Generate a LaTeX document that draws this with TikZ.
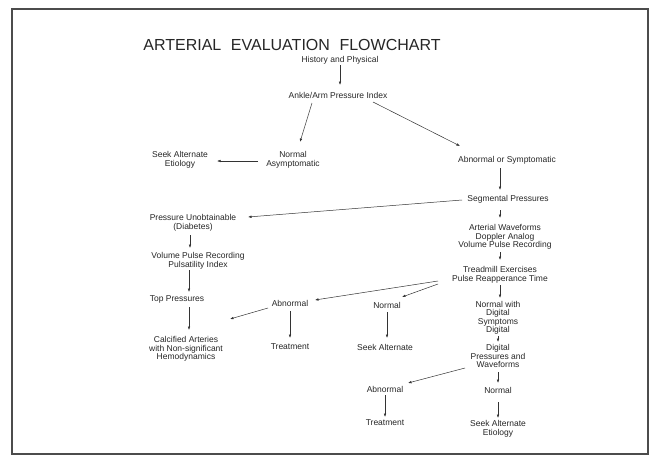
\documentclass[tikz,border=0pt]{standalone}
\usepackage{fontspec}
\setmainfont{Liberation Sans}
\usetikzlibrary{arrows.meta}
\begin{document}
\begin{tikzpicture}[x=1pt,y=1pt]
\tikzstyle{every node}+=[inner sep=0pt, align=center, text=black!85, font=\fontsize{8.5}{8.5}\selectfont]
\tikzstyle{arr}=[draw=black!80, line width=0.5pt, -{Latex[length=3.5pt,width=2.6pt]}]
\useasboundingbox (0,0) rectangle (652,-455);
\draw [black!70, line width=1.2pt] (12,-9) rectangle (648,-454);
\node (title) at (292,-45) {\fontsize{16}{16}\selectfont ARTERIAL\hspace{0.6em}EVALUATION\hspace{0.6em}FLOWCHART};
\node (hist) at (340,-60) {History and Physical};
\node (aai) at (338,-95) {Ankle/Arm Pressure Index};
\node (norm) at (293,-160) {Normal\\Asymptomatic};
\node (seek1) at (180,-160) {Seek Alternate\\Etiology};
\node (abn) at (507,-160) {Abnormal or Symptomatic};
\node (seg) at (508,-199) {Segmental Pressures};
\node (wave) at (505,-237) {Arterial Waveforms\\Doppler Analog\\Volume Pulse Recording};
\node (tread) at (500,-275) {Treadmill Exercises\\Pulse Reapperance Time};
\node (unob) at (193,-223) {Pressure Unobtainable\\(Diabetes)};
\node (vpr) at (198,-261) {Volume Pulse Recording\\Pulsatility Index};
\node (top) at (177,-299) {Top Pressures};
\node (calc) at (186,-349) {Calcified Arteries\\with Non-significant\\Hemodynamics};
\node (abn2) at (290,-303) {Abnormal};
\node (treat2) at (290,-347) {Treatment};
\node (norm2) at (387,-305) {Normal};
\node (seek2) at (385,-347) {Seek Alternate};
\node (nwd) at (498,-318) {Normal with\\Digital\\Symptoms\\Digital};
\node (dig) at (498,-356) {Digital\\Pressures and\\Waveforms};
\node (abn3) at (385,-389) {Abnormal};
\node (treat3) at (385,-423) {Treatment};
\node (norm3) at (498,-390) {Normal};
\node (seek3) at (498,-429) {Seek Alternate\\Etiology};
% upper part
\draw [arr] ([shift={(0,-5)}]hist.center) -- ([shift={(2,10)}]aai.center);
\draw [arr] ([shift={(-26,-8)}]aai.center) -- ([shift={(7,18)}]norm.center);
\draw [arr] ([shift={(35,-7)}]aai.center) -- ([shift={(-47,14)}]abn.center);
\draw [arr] ([shift={(-35,-1)}]norm.center) -- ([shift={(37,-1)}]seek1.center);
\draw [arr] ([shift={(-7,-8)}]abn.center) -- ([shift={(-8,9)}]seg.center);
\draw [arr] ([shift={(-46,-1)}]seg.center) -- ([shift={(55,6)}]unob.center);
\draw [arr] ([shift={(-8,-11)}]seg.center) -- ([shift={(-5,19)}]wave.center);
\draw [arr] ([shift={(-5,-15)}]wave.center) -- ([shift={(0,15)}]tread.center);
% left column
\draw [arr] ([shift={(-3,-12)}]unob.center) -- ([shift={(-8,13)}]vpr.center);
\draw [arr] ([shift={(-9,-9)}]vpr.center) -- ([shift={(12,7)}]top.center);
\draw [arr] ([shift={(12,-8)}]top.center) -- ([shift={(3,19)}]calc.center);
% treadmill results
\draw [arr] ([shift={(-62,-6)}]tread.center) -- ([shift={(25,3)}]abn2.center);
\draw [arr] ([shift={(-62,-9)}]tread.center) -- ([shift={(15,8)}]norm2.center);
\draw [arr] ([shift={(0,-10)}]tread.center) -- ([shift={(2,20)}]nwd.center);
\draw [arr] ([shift={(-22,-5)}]abn2.center) -- ([shift={(44,30)}]calc.center);
\draw [arr] ([shift={(0,-8)}]abn2.center) -- ([shift={(0,9)}]treat2.center);
\draw [arr] ([shift={(0,-7)}]norm2.center) -- ([shift={(2,9)}]seek2.center);
% digital
\draw [arr] ([shift={(0,-18)}]nwd.center) -- ([shift={(0,14)}]dig.center);
\draw [arr] ([shift={(-33,-12)}]dig.center) -- ([shift={(23,6)}]abn3.center);
\draw [arr] ([shift={(0,-16)}]dig.center) -- ([shift={(0,7)}]norm3.center);
\draw [arr] ([shift={(0,-6)}]abn3.center) -- ([shift={(0,6)}]treat3.center);
\draw [arr] ([shift={(0,-12)}]norm3.center) -- ([shift={(0,11)}]seek3.center);
\end{tikzpicture}
\end{document}
